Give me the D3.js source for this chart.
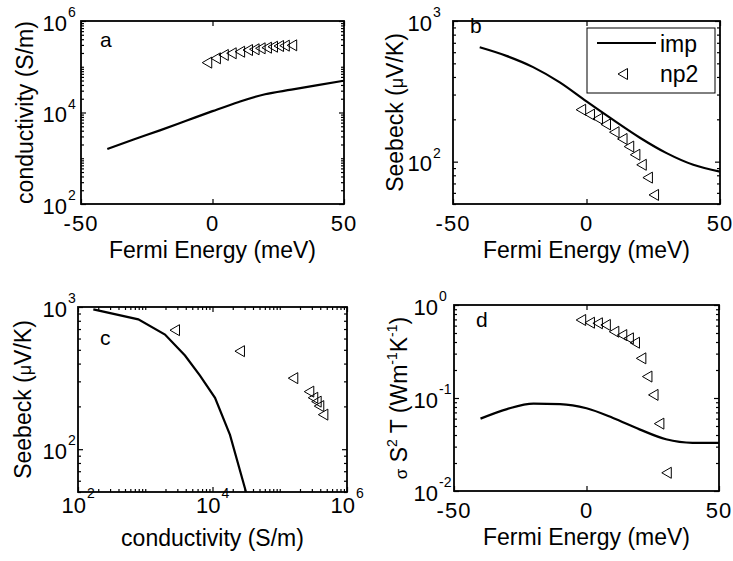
<!DOCTYPE html>
<html>
<head>
<meta charset="utf-8">
<script src="https://cdn.jsdelivr.net/npm/d3@7"></script>
<style>
  body { margin: 0; background: #fff; }
  text { font-family: "Liberation Sans", Arial, sans-serif; fill: #000; }
</style>
</head>
<body>
<svg id="fig" width="733" height="561"></svg>
<script>
// imp curve, sampled every 10 meV
var energyGrid = [-40, -30, -20, -10, 0, 10, 20, 30, 40, 50];
var impSigma   = [1600, 2570, 4070, 6600, 10700, 17000, 25100, 31600, 39800, 49500];
var impSeebeck = [650, 565, 470, 366, 268, 198, 148, 115, 95, 85];
var impPF      = [0.060, 0.076, 0.087, 0.086, 0.0775, 0.061, 0.046, 0.036, 0.033, 0.033];

// np2 points
var np2Energy  = [-2, 1.3, 4.3, 7.3, 10.5, 13.5, 16, 18.3, 20.7, 23, 25.3, 27.5, 30.3];
var np2Sigma   = [1.23e5, 1.53e5, 1.81e5, 1.97e5, 2.13e5, 2.32e5, 2.41e5, 2.53e5, 2.61e5, 2.74e5, 2.84e5, 2.89e5, 2.94e5];
var np2Seebeck = [234, 216, 202, 184, 162, 145, 128, 112, 95, 77, 58, null, null];
var np2PF      = [0.69, 0.645, 0.636, 0.61, 0.516, 0.475, 0.438, 0.393, 0.267, 0.17, 0.108, 0.053, 0.0157];

// panel c: Seebeck vs conductivity
var cLineSigma   = [169, 788, 1966, 3900, 6520, 10900, 18200, 31500];
var cLineSeebeck = [963, 818, 640, 456, 329, 230, 126, 50];
var cPtSigma     = [2770, 25600, 1.59e5, 2.75e5, 3.15e5, 3.54e5, 3.87e5, 4.45e5];
var cPtSeebeck   = [687, 489, 316, 254, 230, 216, 201, 175];

var energyTicks = [-50, 0, 50];

var svg = d3.select('#fig');
var tri = 'M-5,0L4.5,-5.5L4.5,5.5Z';

function zip(xs, ys) {
    var out = [];
    for (var i = 0; i < xs.length; i++)
        if (ys[i] != null) out.push([xs[i], ys[i]]);
    return out;
}

function isPow(v) { var l = Math.log10(v); return Math.abs(l - Math.round(l)) < 1e-9; }

// minor ticks of a log axis: 2..9 of every decade, plus unlabelled decades
function logMinor(scale, major) {
    var d = scale.domain(), t = [];
    var lo = Math.floor(Math.log10(d[0])), hi = Math.ceil(Math.log10(d[1]));
    for (var e = lo; e <= hi; e++)
        for (var m = 1; m <= 9; m++) {
            var v = m * Math.pow(10, e);
            if (v < d[0] * 0.999 || v > d[1] * 1.001) continue;
            if (isPow(v) && major.some(function(k) { return Math.abs(k - v) / v < 1e-6; })) continue;
            t.push(v);
        }
    return t;
}

var panelId = 0;
function panel(p) {
    var g = svg.append('g');
    var x = p.x, y = p.y;
    var W = p.x1 - p.x0, H = p.y1 - p.y0;
    panelId++;

    g.append('clipPath').attr('id', 'clip' + panelId)
        .append('rect').attr('x', p.x0).attr('y', p.y0).attr('width', W).attr('height', H);

    // ticks (inward, all four sides)
    function clean(s) { s.select('.domain').remove(); s.selectAll('line').attr('stroke-width', 1.2); }
    function ticksX(vals, size) {
        g.append('g').attr('transform', 'translate(0,' + p.y1 + ')')
            .call(d3.axisBottom(x).tickValues(vals).tickSize(-size).tickFormat('')).call(clean);
        g.append('g').attr('transform', 'translate(0,' + p.y0 + ')')
            .call(d3.axisTop(x).tickValues(vals).tickSize(-size).tickFormat('')).call(clean);
    }
    function ticksY(vals, size) {
        g.append('g').attr('transform', 'translate(' + p.x0 + ',0)')
            .call(d3.axisLeft(y).tickValues(vals).tickSize(-size).tickFormat('')).call(clean);
        g.append('g').attr('transform', 'translate(' + p.x1 + ',0)')
            .call(d3.axisRight(y).tickValues(vals).tickSize(-size).tickFormat('')).call(clean);
    }

    ticksX(p.xMajor, 5);
    if (p.xLog) ticksX(logMinor(x, p.xMajor), 3);
    ticksY(p.yMajor, 5);
    ticksY(logMinor(y, p.yMajor), 3);

    // x tick labels
    p.xMajor.forEach(function(v) {
        var px = x(v);
        if (p.xLog) {
            g.append('text').attr('x', px + 8).attr('y', p.y1 + 21).attr('font-size', 22)
                .attr('text-anchor', 'end').text('10');
            g.append('text').attr('x', px + 9).attr('y', p.y1 + 6).attr('font-size', 14)
                .text(Math.round(Math.log10(v)));
        } else {
            g.append('text').attr('x', px).attr('y', p.y1 + 27).attr('font-size', 22)
                .attr('letter-spacing', 1).attr('text-anchor', 'middle').text(v);
        }
    });

    // y tick labels
    p.yMajor.forEach(function(v) {
        var py = y(v);
        var ex = Math.round(Math.log10(v));
        g.append('text').attr('x', p.x0 - p.yGap).attr('y', py + 9.5).attr('font-size', 22)
            .attr('text-anchor', 'end').text('10');
        g.append('text').attr('x', p.x0 - p.yGap + 1).attr('y', py - 4).attr('font-size', 14)
            .text(ex < 0 ? '-' + (-ex) : ex);
    });

    // data
    var plot = g.append('g').attr('clip-path', 'url(#clip' + panelId + ')');
    if (p.line) {
        plot.append('path').datum(p.line)
            .attr('fill', 'none').attr('stroke', '#000').attr('stroke-width', 2.2)
            .attr('d', d3.line().x(function(d) { return x(d[0]); }).y(function(d) { return y(d[1]); })
                .curve(p.curve || d3.curveMonotoneX));
    }
    if (p.points) {
        plot.selectAll('path.pt').data(p.points).enter().append('path').attr('class', 'pt')
            .attr('d', tri)
            .attr('transform', function(d) { return 'translate(' + x(d[0]) + ',' + y(d[1]) + ')'; })
            .attr('fill', 'none').attr('stroke', '#000').attr('stroke-width', 1);
    }

    // box
    g.append('rect').attr('x', p.x0).attr('y', p.y0).attr('width', W).attr('height', H)
        .attr('fill', 'none').attr('stroke', '#000').attr('stroke-width', 1.8);

    // panel letter
    g.append('text').attr('x', p.x0 + p.letterAt[0]).attr('y', p.y0 + p.letterAt[1])
        .attr('font-size', 21).text(p.letter);

    // axis labels
    g.append('text').attr('x', (p.x0 + p.x1) / 2).attr('y', p.y1 + 54)
        .attr('font-size', 23).attr('text-anchor', 'middle').text(p.xLabel);

    var yl = g.append('text')
        .attr('transform', 'translate(' + p.yLabelX + ',' + (p.y0 + p.y1) / 2 + ') rotate(-90)')
        .attr('font-size', 23).attr('text-anchor', 'middle');
    p.yLabel(yl);
    return g;
}

function seebeckLabel(t) {
    t.append('tspan').text('Seebeck (');
    t.append('tspan').attr('font-size', 18).text('\u03bc');
    t.append('tspan').text('V/K)');
}

// a
var ax = d3.scaleLinear().domain([-50, 50]).range([81, 344]);
var ay = d3.scaleLog().domain([1e2, 1e6]).range([204, 21]);
panel({
    x: ax, y: ay, x0: 81, x1: 344, y0: 21, y1: 204,
    xMajor: energyTicks, yMajor: [1e2, 1e4, 1e6], yGap: 14,
    line: zip(energyGrid, impSigma), points: zip(np2Energy, np2Sigma),
    letter: 'a', letterAt: [19, 26],
    xLabel: 'Fermi Energy (meV)', yLabelX: 33,
    yLabel: function(t) { t.text('conductivity (S/m)'); }
});

// b
var bx = d3.scaleLinear().domain([-50, 50]).range([453, 720]);
var by = d3.scaleLog().domain([50, 1000]).range([204, 21]);
panel({
    x: bx, y: by, x0: 453, x1: 720, y0: 21, y1: 204,
    xMajor: energyTicks, yMajor: [1e2, 1e3], yGap: 21,
    line: zip(energyGrid, impSeebeck), points: zip(np2Energy, np2Seebeck),
    letter: 'b', letterAt: [17, 12],
    xLabel: 'Fermi Energy (meV)', yLabelX: 403,
    yLabel: seebeckLabel
});

// legend
var lg = svg.append('g');
lg.append('rect').attr('x', 587).attr('y', 28).attr('width', 128).attr('height', 65)
    .attr('fill', '#fff').attr('stroke', '#000').attr('stroke-width', 1);
lg.append('line').attr('x1', 597).attr('x2', 656).attr('y1', 43).attr('y2', 43)
    .attr('stroke', '#000').attr('stroke-width', 2.2);
lg.append('text').attr('x', 660).attr('y', 52).attr('font-size', 23).text('imp');
lg.append('path').attr('d', tri).attr('transform', 'translate(623,74)')
    .attr('fill', 'none').attr('stroke', '#000').attr('stroke-width', 1);
lg.append('text').attr('x', 660).attr('y', 82).attr('font-size', 23).text('np2');

// c
var cx = d3.scaleLog().domain([1e2, 1e6]).range([78, 347]);
var cy = d3.scaleLog().domain([50, 1000]).range([492, 307]);
panel({
    x: cx, y: cy, x0: 78, x1: 347, y0: 307, y1: 492, xLog: true,
    xMajor: [1e2, 1e4, 1e6], yMajor: [1e2, 1e3], yGap: 11,
    line: zip(cLineSigma, cLineSeebeck), curve: d3.curveLinear,
    points: zip(cPtSigma, cPtSeebeck),
    letter: 'c', letterAt: [22, 38],
    xLabel: 'conductivity (S/m)', yLabelX: 31,
    yLabel: seebeckLabel
});

// d
var dx = d3.scaleLinear().domain([-50, 50]).range([454, 719]);
var dy = d3.scaleLog().domain([1e-2, 1]).range([491, 305]);
panel({
    x: dx, y: dy, x0: 454, x1: 719, y0: 305, y1: 491,
    xMajor: energyTicks, yMajor: [1e-2, 1e-1, 1], yGap: 16,
    line: zip(energyGrid, impPF), points: zip(np2Energy, np2PF),
    letter: 'd', letterAt: [22, 22],
    xLabel: 'Fermi Energy (meV)', yLabelX: 407,
    yLabel: function(t) {
        t.append('tspan').attr('font-size', 17).text('\u03c3');
        t.append('tspan').text(' S');
        t.append('tspan').attr('font-size', 14).attr('dy', -10).text('2');
        t.append('tspan').attr('dy', 10).text(' T (Wm');
        t.append('tspan').attr('font-size', 14).attr('dy', -10).text('-1');
        t.append('tspan').attr('dy', 10).text('K');
        t.append('tspan').attr('font-size', 14).attr('dy', -10).text('-1');
        t.append('tspan').attr('dy', 10).text(')');
    }
});
</script>
</body>
</html>
